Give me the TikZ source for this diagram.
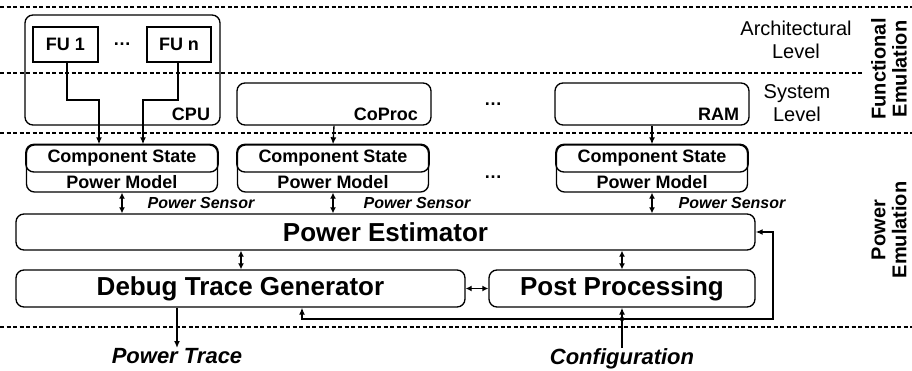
\documentclass[tikz,border=0pt]{standalone}
\usepackage{fontspec}
\setmainfont{Liberation Sans}
\usetikzlibrary{arrows.meta,calc}
\begin{document}
\begin{tikzpicture}[x=1pt,y=-1pt,
  line width=1.35pt,
  box/.style={draw, rounded corners=8pt, inner sep=0pt},
  sqbox/.style={draw, inner sep=0pt},
  sep/.style={line width=1.8pt, dash pattern=on 4pt off 2.5pt},
  arr/.style={-{Latex[length=7pt,width=6pt]}},
  darr/.style={{Latex[length=6pt,width=6pt]}-{Latex[length=6pt,width=6pt]}},
  lbl/.style={font=\fontsize{18}{20}\selectfont\bfseries, inner sep=0pt},
  big/.style={font=\fontsize{26}{28}\selectfont\bfseries, inner sep=0pt},
  sens/.style={font=\fontsize{16}{18}\selectfont\bfseries\itshape, inner sep=0pt, anchor=west},
  io/.style={font=\fontsize{22}{24}\selectfont\bfseries\itshape, inner sep=0pt},
  lvl/.style={font=\fontsize{20}{23}\selectfont, align=center, inner sep=0pt},
  side/.style={font=\fontsize{20}{21}\selectfont\bfseries, align=center, rotate=90, inner sep=0pt},
  ]
\useasboundingbox (0,0) rectangle (912,371);

% layer separators
\draw[sep] (0,7) -- (912,7);
\draw[sep] (0,73) -- (862,73);
\draw[sep] (0,133) -- (912,133);
\draw[sep] (0,327) -- (912,327);

% level and layer titles
\node[lvl] (arch) at (796,40) {Architectural\\Level};
\node[lvl] (syslvl) at (797,103) {System\\Level};
\node[side] (funcemu) at (889,69) {Functional\\Emulation};
\node[side] (powemu) at (889,230) {Power\\Emulation};

% functional components
\node[box, minimum width=195pt, minimum height=110pt] (cpu) at (122.5,70) {};
\node[lbl, anchor=south east] (cpulbl) at ($(cpu.south east)+(-10,-4)$) {CPU};
\node[sqbox, minimum width=65pt, minimum height=35pt] (fu1) at (65.5,44.5) {};
\node[lbl] (fu1lbl) at (fu1.center) {FU 1};
\node[sqbox, minimum width=64pt, minimum height=35pt] (fun) at (179,44.5) {};
\node[lbl] (funlbl) at (fun.center) {FU n};
\node[lbl] (fudots) at (122,44) {\dots};

\node[box, minimum width=194pt, minimum height=42pt] (coproc) at (334,104) {};
\node[lbl, anchor=south east] (coproclbl) at ($(coproc.south east)+(-13,-4)$) {CoProc};
\node[lbl] (sysdots) at (493,104) {\dots};
\node[box, minimum width=194pt, minimum height=42pt] (ram) at (652,104) {};
\node[lbl, anchor=south east] (ramlbl) at ($(ram.south east)+(-10,-4)$) {RAM};

% component state / power model blocks
\foreach \n/\cx in {cs1/122, cs2/333, cs3/652}{
  \node[box, minimum width=191pt, minimum height=47pt] (\n) at (\cx,168.5) {};
  \draw[rounded corners=8pt] (\n.north west) rectangle (\n.east |- 0,172);
  \node[lbl] (\n state) at (\cx,158) {Component State};
  \node[lbl] (\n model) at (\cx,182.5) {Power Model};
}
\node[lbl] (csdots) at (493,177) {\dots};

% power emulation blocks
\node[box, minimum width=739pt, minimum height=36pt] (pe) at (385.5,232) {};
\node[big] (pelbl) at (pe.center) {Power Estimator};
\node[box, minimum width=449pt, minimum height=37pt] (dtg) at (240.5,288.5) {};
\node[big] (dtglbl) at (dtg.center) {Debug Trace Generator};
\node[box, minimum width=266pt, minimum height=37pt] (pp) at (622,288.5) {};
\node[big] (pplbl) at (pp.center) {Post Processing};

% inputs and outputs
\node[io, anchor=north] (trace) at (177,348) {Power Trace};
\node[io, anchor=north] (config) at (622,348) {Configuration};

% functional units to the CPU state
\coordinate (k1) at (99,100);
\coordinate (kn) at (143,100);
\draw[arr] (fu1.south -| 67,0) |- (k1) -- (k1 |- cs1.north);
\draw[arr] (fun.south -| 178,0) |- (kn) -- (kn |- cs1.north);
\draw[arr] (coproc.south) -- (cs2.north);
\draw[arr] (ram.south) -- (cs3.north);

% power sensors
\foreach \n/\dx in {cs1/25, cs2/30, cs3/26}{
  \draw[darr] (\n.south) -- (\n.south |- pe.north);
  \node[sens] at ($(\n.south)+(\dx,10)$) {Power Sensor};
}

% estimator, trace generator and post processing
\draw[darr] (dtg.north -| 241,0) -- (pe.south -| 241,0);
\draw[darr] (pp.north) -- (pp.north |- pe.south);
\draw[darr] (dtg.east) -- (pp.west);
\draw[arr] (dtg.south -| trace.north) -- (trace.north);

% configuration distribution
\coordinate (cj) at (622,319);
\coordinate (cr) at (773,319);
\coordinate (cl) at (302,319);
\draw[arr] (config.north) -- (pp.south);
\fill (cj) circle (2.2pt);
\draw[arr] (cj) -- (cr) |- (pe.east);
\draw[arr] (cj) -- (cl) -- (cl |- dtg.south);
\end{tikzpicture}
\end{document}
